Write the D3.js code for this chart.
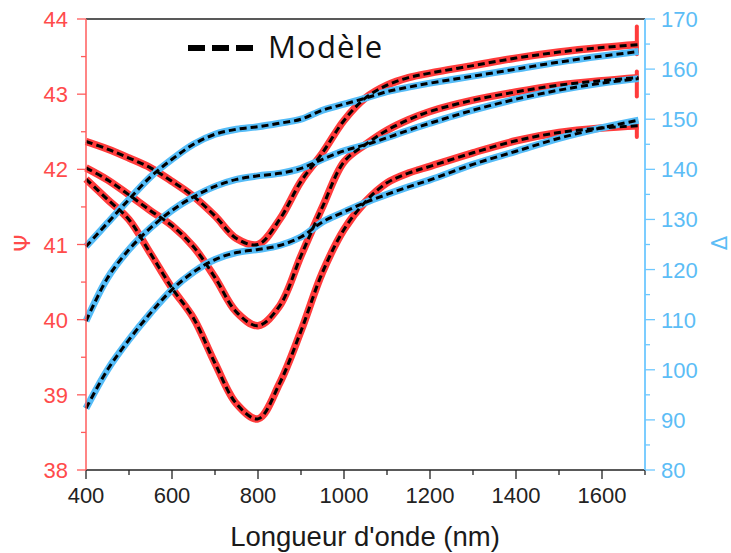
<!DOCTYPE html>
<html><head><meta charset="utf-8">
<script src="https://cdn.jsdelivr.net/npm/d3@7"></script>
<style>body{margin:0;background:#fff}svg{display:block}</style>
</head><body>
<script>
const wavelength = [400,450,500,550,600,650,700,750,800,850,900,950,1000,1050,1100,1150,1200,1300,1400,1500,1600,1685];
const psiA = [42.37,42.27,42.15,42.02,41.84,41.64,41.38,41.08,41.00,41.33,41.84,42.22,42.65,42.95,43.12,43.22,43.28,43.38,43.48,43.56,43.62,43.66];
const psiB = [42.02,41.86,41.66,41.45,41.25,40.97,40.56,40.10,39.92,40.18,40.85,41.50,42.10,42.33,42.52,42.66,42.77,42.92,43.03,43.12,43.18,43.22];
const psiC = [41.87,41.60,41.33,40.88,40.42,40.02,39.42,38.88,38.68,39.15,39.85,40.63,41.20,41.57,41.82,41.95,42.04,42.22,42.38,42.49,42.55,42.58];
const deltaA = [124.6,129.3,134.0,138.5,142.0,145.0,147.0,148.0,148.5,149.2,150.0,151.8,153.0,154.2,155.5,156.4,157.2,158.6,160.0,161.4,162.6,163.5];
const deltaB = [109.7,118.3,124.0,128.3,131.8,134.5,136.6,138.0,138.7,139.2,140.2,142.0,143.7,144.9,146.3,147.8,149.2,151.8,154.0,155.8,157.2,158.1];
const deltaC = [92.3,100.0,106.0,111.3,116.0,119.5,122.0,123.4,124.0,124.8,126.5,129.5,131.5,133.4,135.0,136.5,137.9,141.0,143.6,146.2,148.3,149.8];
const spikeNm = [1681,1681,1681];
const spikeLo = [43.53,42.97,42.43];
const spikeHi = [43.90,43.30,42.62];
const xTicks = [400,600,800,1000,1200,1400,1600];
const psiTicks = [38,39,40,41,42,43,44];
const deltaTicks = [80,90,100,110,120,130,140,150,160,170];
const legendLabel = "Modèle";
const xTitle = "Longueur d'onde (nm)";

const W = 731, H = 553;
const L = 86, R = 645, T = 19, B = 470;
const RED = "#ff3b3b", BLUE = "#55bcf7", REDAX = "#ff5c5c", BLUEAX = "#6ec8ff";
const REDTXT = "#ff4b4b", BLUETXT = "#5cbdf6";

const svg = d3.select("body").append("svg").attr("width", W).attr("height", H);
const x = d3.scaleLinear().domain([400,1700]).range([L,R]);
const yP = d3.scaleLinear().domain([38,44]).range([B,T]);
const yD = d3.scaleLinear().domain([80,170]).range([B,T]);

const plot = svg.append("g");
function lineFor(vals, ys){
  return d3.line().x((d,i)=>x(wavelength[i])).y(d=>ys(d)).curve(d3.curveCatmullRom.alpha(0.5))(vals);
}
const psiSeries = [psiA, psiB, psiC];
const deltaSeries = [deltaA, deltaB, deltaC];
psiSeries.forEach(s => plot.append("path").attr("d", lineFor(s, yP)).attr("fill","none")
  .attr("stroke", RED).attr("stroke-width", 7.5).attr("stroke-linejoin","round"));
spikeNm.forEach((n,i) => plot.append("line").attr("x1",x(n)).attr("x2",x(n))
  .attr("y1",yP(spikeLo[i])).attr("y2",yP(spikeHi[i])).attr("stroke",RED).attr("stroke-width",4).attr("stroke-linecap","round"));
deltaSeries.forEach(s => plot.append("path").attr("d", lineFor(s, yD)).attr("fill","none")
  .attr("stroke", BLUE).attr("stroke-width", 7).attr("stroke-linejoin","round"));
psiSeries.forEach(s => plot.append("path").attr("d", lineFor(s, yP)).attr("fill","none")
  .attr("stroke", "#000").attr("stroke-width", 3).attr("stroke-dasharray","7,4"));
deltaSeries.forEach(s => plot.append("path").attr("d", lineFor(s, yD)).attr("fill","none")
  .attr("stroke", "#000").attr("stroke-width", 3).attr("stroke-dasharray","7,4"));

// frame top
svg.append("line").attr("x1",L).attr("x2",R).attr("y1",T).attr("y2",T).attr("stroke","#222").attr("stroke-width",1.3);

// bottom axis
const xMinor = d3.range(500,1701,200);
const gx = svg.append("g").attr("transform",`translate(0,${B})`);
gx.append("line").attr("x1",L).attr("x2",R).attr("stroke","#222").attr("stroke-width",1.3);
gx.selectAll(".mj").data(xTicks).join("line").attr("x1",d=>x(d)).attr("x2",d=>x(d)).attr("y1",0).attr("y2",9).attr("stroke","#222").attr("stroke-width",1.3);
gx.selectAll(".mn").data(xMinor).join("line").attr("class","mn").attr("x1",d=>x(d)).attr("x2",d=>x(d)).attr("y1",0).attr("y2",5).attr("stroke","#222").attr("stroke-width",1.3);
gx.selectAll("text").data(xTicks).join("text").attr("x",d=>x(d)).attr("y",33).attr("text-anchor","middle")
  .attr("font-family","'Liberation Sans', Arial, sans-serif").attr("font-size",22).attr("fill","#222").text(d=>d);

// left axis
const gl = svg.append("g").attr("transform",`translate(${L},0)`);
gl.append("line").attr("y1",T).attr("y2",B).attr("stroke",REDAX).attr("stroke-width",1.5);
gl.selectAll(".mj").data(psiTicks).join("line").attr("class","mj").attr("x1",-9).attr("x2",0).attr("y1",d=>yP(d)).attr("y2",d=>yP(d)).attr("stroke",REDAX).attr("stroke-width",1.3);
gl.selectAll(".mn").data(d3.range(38.5,44,1)).join("line").attr("class","mn").attr("x1",-5).attr("x2",0).attr("y1",d=>yP(d)).attr("y2",d=>yP(d)).attr("stroke",REDAX).attr("stroke-width",1.3);
gl.selectAll("text").data(psiTicks).join("text").attr("x",-18).attr("y",d=>yP(d)+8).attr("text-anchor","end")
  .attr("font-family","'Liberation Sans', Arial, sans-serif").attr("font-size",22).attr("fill",REDTXT).text(d=>d);

// right axis
const gr = svg.append("g").attr("transform",`translate(${R},0)`);
gr.append("line").attr("y1",T).attr("y2",B).attr("stroke",BLUEAX).attr("stroke-width",1.8);
gr.selectAll(".mj").data(deltaTicks).join("line").attr("class","mj").attr("x1",0).attr("x2",10).attr("y1",d=>yD(d)).attr("y2",d=>yD(d)).attr("stroke",BLUEAX).attr("stroke-width",1.3);
gr.selectAll(".mn").data(d3.range(85,170,10)).join("line").attr("class","mn").attr("x1",0).attr("x2",5).attr("y1",d=>yD(d)).attr("y2",d=>yD(d)).attr("stroke",BLUEAX).attr("stroke-width",1.3);
gr.selectAll("text").data(deltaTicks).join("text").attr("x",16).attr("y",d=>yD(d)+8).attr("text-anchor","start")
  .attr("font-family","'Liberation Sans', Arial, sans-serif").attr("font-size",22).attr("fill",BLUETXT).text(d=>d);

// axis titles
svg.append("text").attr("transform","translate(30,243) rotate(-90)").attr("text-anchor","middle")
  .attr("font-family","'DejaVu Sans', sans-serif").attr("font-size",22).attr("fill",REDTXT).text("Ψ");
svg.append("text").attr("transform","translate(727,243) rotate(-90)").attr("text-anchor","middle")
  .attr("font-family","'DejaVu Sans', sans-serif").attr("font-size",21).attr("fill",BLUETXT).text("Δ");
svg.append("text").attr("x",(230+500)/2).attr("y",546).attr("text-anchor","middle")
  .attr("font-family","'Liberation Sans', Arial, sans-serif").attr("font-size",27.5).attr("fill","#1a1a1a").text(xTitle);

// legend
svg.append("line").attr("x1",188).attr("x2",259).attr("y1",48).attr("y2",48).attr("stroke","#000").attr("stroke-width",6).attr("stroke-dasharray","17,7");
svg.append("text").attr("x",268).attr("y",58).attr("font-family","'Open Sans', sans-serif").attr("font-size",31).attr("letter-spacing",1.2).attr("fill","#111").text(legendLabel);
</script>
</body></html>
